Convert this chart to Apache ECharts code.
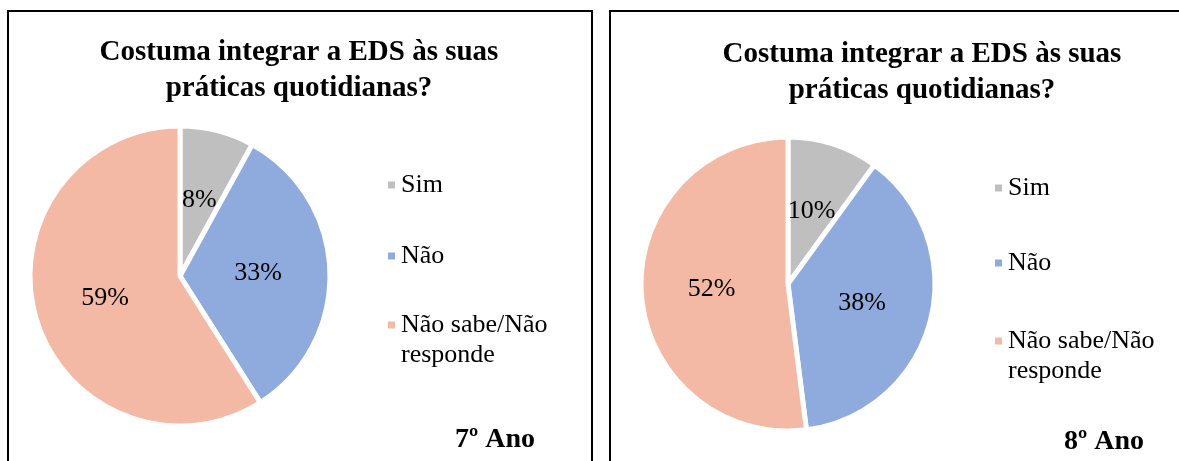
<!DOCTYPE html>
<html><head><meta charset="utf-8">
<script src="https://cdn.jsdelivr.net/npm/echarts@6/dist/echarts.min.js"></script>
<style>html,body{margin:0;padding:0;background:#fff}#c{width:1179px;height:461px}</style>
</head><body><div id="c"></div>
<script>
const categories = ['Sim', 'Não', 'Não sabe/Não\nresponde'];
const values7 = [8, 33, 59];
const values8 = [10, 38, 52];
const chartTitle = 'Costuma integrar a EDS às suas\npráticas quotidianas?';
const panelLabels = ['7º Ano', '8º Ano'];
const colors = ['#BFBFBF', '#8FAADC', '#F4B9A5'];

const FONT = '"Liberation Serif", "Times New Roman", serif';
const chart = echarts.init(document.getElementById('c'), null, {renderer: 'canvas'});

function mkData(vals) {
  return categories.map((n, i) => ({name: n, value: vals[i], itemStyle: {color: colors[i]}}));
}
function pie(vals, center, r) {
  return {
    type: 'pie', center: center, radius: r, startAngle: 90, clockwise: true,
    avoidLabelOverlap: false, animation: false,
    itemStyle: {borderColor: '#fff', borderWidth: 5},
    label: {show: true, position: 'inside', formatter: p => p.value + '%',
      color: '#000', fontFamily: FONT, fontSize: 26},
    labelLine: {show: false},
    emphasis: {disabled: true},
    data: mkData(vals)
  };
}
function legends(x, tops) {
  return categories.map((n, i) => ({
    left: x, top: tops[i], orient: 'vertical', padding: 0,
    icon: 'rect', itemWidth: 9, itemHeight: 9, itemGap: 0,
    selectedMode: false,
    formatter: name => (name.indexOf('\n') >= 0 ? '\n' + name : name),
    textStyle: {fontFamily: FONT, fontSize: 26, color: '#000', lineHeight: 30},
    data: [n]
  }));
}
const titleStyle = {fontFamily: FONT, fontSize: 29, fontWeight: 'bold', color: '#000', lineHeight: 36};
const yearStyle = {fontFamily: FONT, fontSize: 28, fontWeight: 'bold', color: '#000', lineHeight: 28};

chart.setOption({
  animation: false,
  title: [
    {text: chartTitle, left: 299, top: 35, textAlign: 'center', padding: 0, textStyle: titleStyle},
    {text: chartTitle, left: 922, top: 37, textAlign: 'center', padding: 0, textStyle: titleStyle},
    {text: panelLabels[0], left: 495, top: 426, textAlign: 'center', padding: 0, textStyle: yearStyle},
    {text: panelLabels[1], left: 1104, top: 428, textAlign: 'center', padding: 0, textStyle: yearStyle}
  ],
  legend: [].concat(legends(386, [170, 241, 280]), legends(993, [173, 248, 296])),
  series: [pie(values7, [180, 276], 150), pie(values8, [788, 284], 147)],
  graphic: [
    {type: 'rect', shape: {x: 8, y: 11, width: 584, height: 500}, style: {fill: 'none', stroke: '#000', lineWidth: 2}, silent: true},
    {type: 'rect', shape: {x: 610, y: 11, width: 600, height: 500}, style: {fill: 'none', stroke: '#000', lineWidth: 2}, silent: true}
  ]
});
</script></body></html>
